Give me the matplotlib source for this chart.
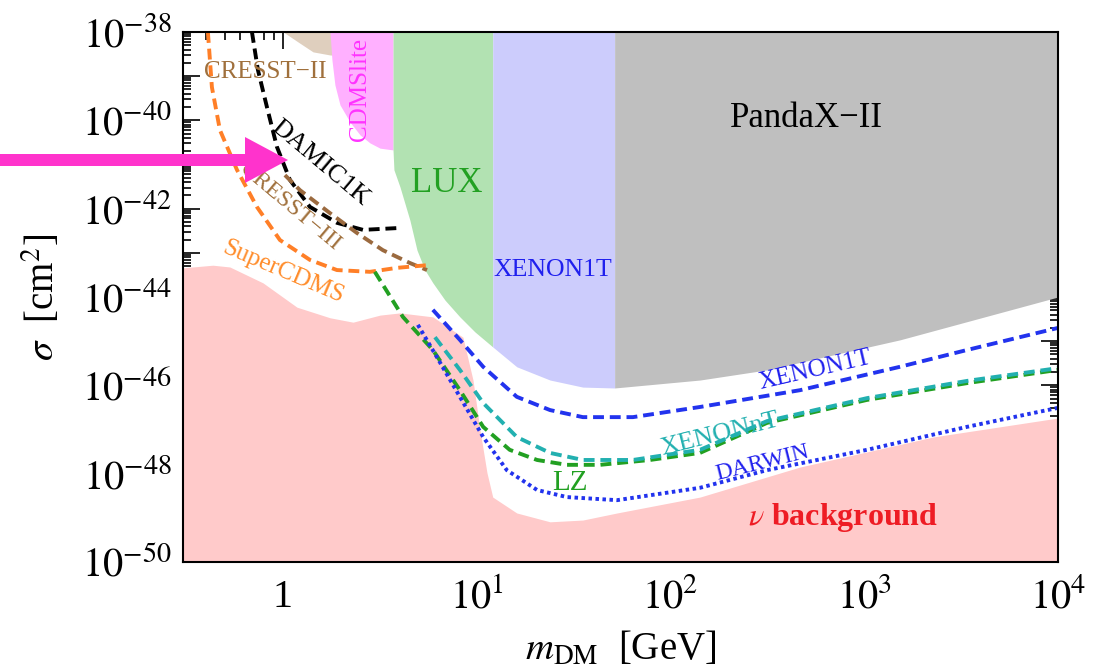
import numpy as np
import matplotlib
matplotlib.use("Agg")
import matplotlib.pyplot as plt
from matplotlib.patches import FancyArrow
from matplotlib.ticker import LogLocator, FixedLocator, FuncFormatter, NullFormatter

plt.rcParams['font.family'] = ['Liberation Serif', 'DejaVu Serif']
plt.rcParams['mathtext.fontset'] = 'stix'

# ---- data: mass [GeV], log10(sigma/cm^2) ----
# excluded regions (lower edges, filled up to 1e-38)
cresst2_m = [1.02, 1.22, 1.43, 1.75, 2.5]
cresst2_s = [-38.02, -38.25, -38.45, -38.52, -38.55]
cdmslite_m = [1.75, 1.79, 1.855, 1.97, 2.22, 2.50, 2.81, 3.17, 3.70]
cdmslite_s = [-38.0, -38.63, -39.20, -39.65, -40.04, -40.33, -40.51, -40.63, -40.67]
lux_m = [3.70, 3.74, 4.02, 4.52, 4.92, 5.41, 5.94, 6.86, 8.19, 9.79, 12.1]
lux_s = [-40.67, -41.12, -41.51, -42.26, -42.94, -43.39, -43.68, -44.07, -44.45, -44.79, -45.13]
x1t_m = [12.1, 16.1, 23.9, 35.3, 51.5]
x1t_s = [-45.13, -45.58, -45.88, -46.04, -46.06]
pandax_m = [51.5, 142, 315, 1530, 1e4]
pandax_s = [-46.06, -45.88, -45.65, -44.97, -44.0]
# neutrino background (upper edge, filled down to 1e-50)
nu_m = [0.305, 0.343, 0.435, 0.532, 0.789, 1.181, 1.748, 2.30, 3.17, 4.02, 5.94, 8.49,
        9.57, 10.4, 11.3, 12.1, 16.1, 23.9, 35.3, 53.0, 142, 466, 2264, 1e4]
nu_s = [-43.34, -43.32, -43.28, -43.32, -43.68, -44.23, -44.47, -44.57, -44.41, -44.36, -44.45, -44.91,
        -45.88, -47.01, -47.98, -48.53, -48.89, -49.09, -49.05, -48.89, -48.53, -47.85, -47.17, -46.74]

# projected / other limits
supercdms_m = [0.41, 0.43, 0.473, 0.579, 0.734, 0.965, 1.378, 1.90, 2.81, 3.88, 5.54]
supercdms_s = [-38.0, -39.25, -40.22, -41.12, -41.96, -42.71, -43.16, -43.39, -43.43, -43.34, -43.28]
damic_m = [0.692, 0.743, 0.827, 0.931, 1.087, 1.378, 1.90, 2.59, 3.88]
damic_s = [-38.0, -38.86, -39.70, -40.60, -41.35, -41.96, -42.32, -42.48, -42.44]
cresst3_m = [1.024, 1.224, 1.748, 2.41, 3.28, 4.52, 5.54]
cresst3_s = [-41.24, -41.58, -42.10, -42.55, -42.94, -43.23, -43.39]
lz_m = [2.98, 4.16, 5.94, 8.19, 10.8, 14.8, 20.5, 29.2, 43.3, 78.3, 142, 315, 1033, 3390, 1e4]
lz_s = [-43.43, -44.45, -45.20, -46.11, -46.94, -47.46, -47.69, -47.80, -47.80, -47.69, -47.53,
        -46.85, -46.33, -45.95, -45.65]
xnt_m = [6.09, 8.19, 10.8, 16.1, 23.9, 35.3, 64.0, 142, 315, 1033, 3390, 1e4]
xnt_s = [-44.91, -45.65, -46.40, -47.17, -47.53, -47.69, -47.69, -47.46, -46.81, -46.29, -45.90, -45.61]
x1tp_m = [5.94, 8.19, 10.8, 16.1, 23.9, 35.3, 64.0, 142, 466, 1530, 3390, 1e4]
x1tp_s = [-44.29, -44.97, -45.58, -46.26, -46.56, -46.72, -46.72, -46.49, -46.11, -45.58, -45.20, -44.70]
darwin_m = [4.97, 6.23, 8.19, 10.8, 14.3, 20.5, 29.2, 53.0, 142, 315, 1033, 3390, 1e4]
darwin_s = [-44.63, -45.36, -46.26, -47.17, -47.92, -48.37, -48.53, -48.60, -48.32, -47.92, -47.46,
            -46.94, -46.51]

xmin, xmax = 0.305, 1e4
ymin, ymax = 1e-50, 1e-38


def p(a):
    return 10.0 ** np.array(a)


fig = plt.figure(figsize=(11.01, 6.71), dpi=100)
ax = fig.add_axes([183/1101, 1 - 562/671, 875/1101, 530/671])

# filled regions
ax.fill_between(cresst2_m, p(cresst2_s), ymax, color='#dfcfbe', lw=0, zorder=1)
ax.fill_between(cdmslite_m, p(cdmslite_s), ymax, color='#ffb0ff', lw=0, zorder=2)
ax.fill_between(lux_m, p(lux_s), ymax, color='#b2e2b2', lw=0, zorder=2)
ax.fill_between(x1t_m, p(x1t_s), ymax, color='#ccccfc', lw=0, zorder=2)
ax.fill_between(pandax_m, p(pandax_s), ymax, color='#bfbfbf', lw=0, zorder=2)
ax.fill_between(nu_m, ymin, p(nu_s), color='#ffcaca', lw=0, zorder=2)

dash = (0, (2.8, 1.5))
lw = 2.8
ax.plot(damic_m, p(damic_s), color='black', lw=lw, ls=dash, zorder=4)
ax.plot(cresst3_m, p(cresst3_s), color='#9b6a3f', lw=lw, ls=dash, zorder=4)
ax.plot(supercdms_m, p(supercdms_s), color='#ff7f27', lw=lw, ls=dash, zorder=4)
ax.plot(x1tp_m, p(x1tp_s), color='#2233ee', lw=lw, ls=dash, zorder=4)
ax.plot(lz_m, p(lz_s), color='#22a022', lw=lw, ls=dash, zorder=4)
ax.plot(xnt_m, p(xnt_s), color='#22b0b0', lw=lw, ls=dash, zorder=4)
ax.plot(darwin_m, p(darwin_s), color='#2233ee', lw=lw, ls=(0, (0.9, 0.9)), zorder=4)

# labels
tk = dict(ha='center', va='center', zorder=5)
ax.text(0.807, 10**-38.91, 'CRESST−II', color='#a0703c', fontsize=18, **tk)
ax.text(2.50, 10**-39.31, 'CDMSlite', color='#ff33ff', fontsize=18, rotation=90, **tk)
ax.text(1.55, 10**-40.97, 'DAMIC1K', color='black', fontsize=19, rotation=-40, **tk)
ax.text(1.087, 10**-41.96, 'CRESST−III', color='#a0703c', fontsize=17, rotation=-40, **tk)
ax.text(1.0, 10**-43.43, 'SuperCDMS', color='#ff8c2a', fontsize=18, rotation=-23, **tk)
ax.text(7.02, 10**-41.42, 'LUX', color='#22a022', fontsize=25, **tk)
ax.text(24.7, 10**-43.39, 'XENON1T', color='#2020ee', fontsize=18.5, **tk)
ax.text(506, 10**-39.95, 'PandaX−II', color='black', fontsize=25, **tk)
ax.text(557, 10**-45.65, 'XENON1T', color='#2020ee', fontsize=18, rotation=13, **tk)
ax.text(180, 10**-47.12, 'XENONnT', color='#22b0b0', fontsize=19, rotation=14, **tk)
ax.text(297, 10**-47.76, 'DARWIN', color='#2020ee', fontsize=17, rotation=14, **tk)
ax.text(30.3, 10**-48.21, 'LZ', color='#22a022', fontsize=21, **tk)
ax.text(777, 10**-49.0, r'$\nu$ background', color='#ee1c24', fontsize=23,
        fontweight='bold', **tk)

ax.set_xscale('log')
ax.set_yscale('log')
ax.set_xlim(xmin, xmax)
ax.set_ylim(ymin, ymax)

xt = [1, 10, 100, 1000, 10000]
xl = ['1', r'$10^{1}$', r'$10^{2}$', r'$10^{3}$', r'$10^{4}$']
ax.xaxis.set_major_locator(FixedLocator(xt))
ax.set_xticklabels(xl)
ax.xaxis.set_minor_locator(LogLocator(base=10, subs=np.arange(2, 10), numticks=20))
ax.xaxis.set_minor_formatter(NullFormatter())

ax.yaxis.set_major_locator(FixedLocator([10.0**e for e in range(-50, -37)]))
ax.yaxis.set_major_formatter(FuncFormatter(
    lambda v, pos: r'$10^{%d}$' % round(np.log10(v)) if round(np.log10(v)) % 2 == 0 else ''))
ax.yaxis.set_minor_locator(LogLocator(base=10, subs=np.arange(2, 10), numticks=30))
ax.yaxis.set_minor_formatter(NullFormatter())

ax.tick_params(which='both', direction='in', top=True, right=True, width=1.2, color='black')
ax.tick_params(which='major', length=12, labelsize=29, pad=8)
ax.tick_params(which='minor', length=6)
ax.tick_params(axis='x', which='major', pad=12)
for s in ax.spines.values():
    s.set_linewidth(1.5)
    s.set_zorder(6)

ax.set_xlabel(r'$m_{\rm DM}$  [GeV]', fontsize=28, labelpad=10)
ax.set_ylabel(r'$\sigma$  [cm$^2$]', fontsize=28, labelpad=14)

# magenta pointer arrow on the left
fig.add_artist(FancyArrow(0, 5.11, 2.88, 0, width=0.12, head_width=0.46, head_length=0.43,
                          length_includes_head=True, color='#ff33cc', lw=0,
                          transform=fig.dpi_scale_trans, zorder=10))

fig.savefig('out.png', dpi=100)
